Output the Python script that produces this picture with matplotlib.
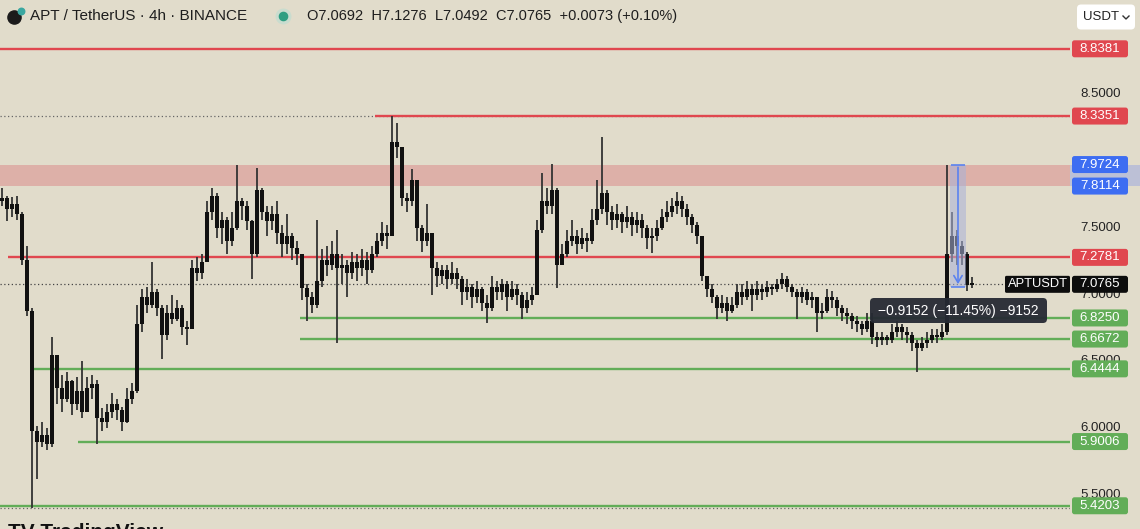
import matplotlib
matplotlib.use("Agg")
import matplotlib.pyplot as plt
from matplotlib.patches import FancyBboxPatch, Rectangle
import numpy as np

# ---- data ----
first_open = 7.70
closes = [
    7.72, 7.64, 7.68, 7.60, 7.26, 6.88, 5.98, 5.90, 5.95, 5.88,
    6.55, 6.30, 6.22, 6.35, 6.18, 6.28, 6.12, 6.30, 6.33, 6.08,
    6.05, 6.12, 6.18, 6.14, 6.05, 6.22, 6.28, 6.78, 6.98, 6.92,
    7.02, 6.90, 6.70, 6.86, 6.82, 6.90, 6.76, 6.74, 7.20, 7.16,
    7.24, 7.62, 7.74, 7.50, 7.56, 7.40, 7.50, 7.70, 7.66, 7.55,
    7.30, 7.78, 7.62, 7.55, 7.60, 7.46, 7.38, 7.44, 7.35, 7.30,
    7.05, 6.98, 6.92, 7.10, 7.26, 7.22, 7.30, 7.20, 7.22, 7.16,
    7.24, 7.20, 7.26, 7.18, 7.30, 7.40, 7.46, 7.44, 8.14, 8.10,
    7.72, 7.70, 7.86, 7.50, 7.40, 7.46, 7.20, 7.14, 7.18, 7.12,
    7.16, 7.12, 7.02, 7.06, 6.98, 7.04, 6.94, 6.90, 7.06, 7.02,
    7.08, 6.98, 7.04, 7.00, 6.90, 6.96, 7.00, 7.48, 7.70, 7.66,
    7.78, 7.22, 7.30, 7.40, 7.44, 7.38, 7.42, 7.40, 7.56, 7.64,
    7.76, 7.62, 7.56, 7.60, 7.54, 7.58, 7.52, 7.56, 7.50, 7.42,
    7.44, 7.50, 7.58, 7.62, 7.66, 7.70, 7.64, 7.58, 7.52, 7.44,
    7.14, 7.04, 6.98, 6.90, 6.94, 6.88, 6.92, 7.02, 6.98, 7.04,
    7.00, 7.04, 7.02, 7.06, 7.04, 7.08, 7.12, 7.06, 7.02, 6.98,
    7.02, 6.96, 6.98, 6.86, 6.88, 6.98, 6.96, 6.90, 6.86, 6.84,
    6.80, 6.78, 6.74, 6.80, 6.68, 6.66, 6.68, 6.66, 6.72, 6.76,
    6.72, 6.70, 6.64, 6.60, 6.64, 6.66, 6.70, 6.68, 6.72, 7.30,
    7.44, 7.36, 7.30, 7.0692, 7.0765,
]
highs = [
    7.80, 7.74, 7.73, 7.74, 7.62, 7.36, 6.90, 6.02, 6.05, 6.00,
    6.68, 6.55, 6.40, 6.42, 6.36, 6.38, 6.50, 6.38, 6.40, 6.36,
    6.15, 6.18, 6.26, 6.22, 6.16, 6.30, 6.34, 6.92, 7.04, 7.06,
    7.24, 7.04, 6.92, 6.92, 7.00, 6.96, 6.92, 6.80, 7.26, 7.28,
    7.30, 7.70, 7.80, 7.76, 7.62, 7.58, 7.62, 7.97, 7.72, 7.70,
    7.56, 7.95, 7.80, 7.66, 7.66, 7.70, 7.52, 7.60, 7.46, 7.40,
    7.30, 7.08, 7.02, 7.56, 7.34, 7.36, 7.40, 7.48, 7.30, 7.26,
    7.32, 7.30, 7.34, 7.32, 7.36, 7.46, 7.54, 7.52, 8.335, 8.28,
    8.10, 7.76, 7.94, 7.86, 7.52, 7.68, 7.46, 7.24, 7.22, 7.22,
    7.24, 7.20, 7.14, 7.12, 7.08, 7.10, 7.06, 7.00, 7.14, 7.10,
    7.12, 7.10, 7.10, 7.08, 7.02, 7.02, 7.06, 7.56, 7.91, 7.80,
    7.98, 7.80, 7.38, 7.48, 7.56, 7.48, 7.50, 7.46, 7.64, 7.86,
    8.18, 7.78, 7.66, 7.68, 7.62, 7.66, 7.62, 7.62, 7.60, 7.52,
    7.50, 7.56, 7.64, 7.70, 7.72, 7.77, 7.74, 7.68, 7.60, 7.54,
    7.44, 7.14, 7.08, 7.00, 7.00, 6.98, 6.98, 7.08, 7.08, 7.10,
    7.08, 7.10, 7.08, 7.10, 7.08, 7.12, 7.16, 7.14, 7.08, 7.04,
    7.06, 7.04, 7.02, 6.98, 6.94, 7.04, 7.03, 6.98, 6.92, 6.90,
    6.86, 6.84, 6.80, 6.86, 6.86, 6.72, 6.72, 6.70, 6.78, 6.80,
    6.78, 6.76, 6.72, 6.66, 6.68, 6.72, 6.74, 6.74, 6.78, 7.97,
    7.62, 7.48, 7.40, 7.32, 7.1276,
]
lows = [
    7.66, 7.55, 7.58, 7.56, 7.22, 6.84, 5.40, 5.62, 5.86, 5.84,
    5.86, 6.18, 6.12, 6.20, 6.10, 6.14, 6.08, 6.15, 6.22, 5.88,
    5.98, 6.00, 6.08, 6.06, 5.98, 6.04, 6.18, 6.26, 6.72, 6.86,
    6.90, 6.84, 6.52, 6.66, 6.78, 6.80, 6.70, 6.62, 6.74, 7.10,
    7.12, 7.24, 7.56, 7.42, 7.38, 7.30, 7.36, 7.48, 7.56, 7.48,
    7.12, 7.28, 7.56, 7.44, 7.48, 7.38, 7.28, 7.30, 7.26, 7.22,
    6.96, 6.80, 6.86, 6.90, 7.06, 7.14, 7.18, 6.64, 7.08, 6.98,
    7.12, 7.10, 7.14, 7.08, 7.16, 7.28, 7.36, 7.34, 7.44, 8.02,
    7.66, 7.62, 7.66, 7.40, 7.32, 7.36, 7.00, 7.06, 7.08, 7.04,
    7.08, 7.04, 6.92, 6.96, 6.90, 6.94, 6.88, 6.79, 6.88, 6.96,
    6.96, 6.88, 6.96, 6.92, 6.82, 6.86, 6.92, 7.00, 7.46, 7.60,
    7.60, 7.05, 7.22, 7.28, 7.36, 7.30, 7.34, 7.32, 7.38, 7.52,
    7.60, 7.52, 7.48, 7.50, 7.46, 7.50, 7.44, 7.46, 7.42, 7.34,
    7.31, 7.40, 7.48, 7.54, 7.58, 7.60, 7.58, 7.52, 7.46, 7.38,
    7.10, 6.98, 6.94, 6.82, 6.86, 6.80, 6.86, 6.90, 6.92, 6.96,
    6.88, 6.96, 6.96, 6.98, 7.00, 7.02, 7.04, 7.02, 6.98, 6.82,
    6.94, 6.92, 6.90, 6.72, 6.82, 6.86, 6.90, 6.84, 6.80, 6.78,
    6.74, 6.72, 6.70, 6.72, 6.63, 6.61, 6.62, 6.62, 6.64, 6.68,
    6.66, 6.64, 6.58, 6.42, 6.58, 6.60, 6.64, 6.64, 6.66, 6.70,
    7.24, 7.22, 7.22, 7.03, 7.0492,
]

red_levels = [8.8381, 8.3351, 7.2781]
red_starts = [-0.4, 74.6, 1.2]          # candle index where each ray begins
green_levels = [6.8250, 6.6672, 6.4444, 5.9006, 5.4203]
green_starts = [59.6, 59.6, 6.2, 15.2, -0.4]
zone = (7.8114, 7.9724)
axis_ticks = [8.5, 7.5, 7.0, 6.5, 6.0, 5.5]
last_price = 7.0765
measure_from = 7.9724
measure_change = -0.9152
measure_pct = -11.45

header_symbol = "APT / TetherUS · 4h · BINANCE"
header_ohlc = "O7.0692  H7.1276  L7.0492  C7.0765  +0.0073 (+0.10%)"

assert len(closes) == len(highs) == len(lows)

# ---- styling ----
BG = "#e1dccb"
RED = "#e0474f"
GREEN = "#62ad58"
BLUE = "#3d6df2"
W, H = 1140, 529
P_TOP, P_BOT = 9.2031, 5.2465
PPX = (P_TOP - P_BOT) / H
XR = 213.6

plt.rcParams["font.family"] = ["Liberation Sans", "DejaVu Sans"]


def py(ypx):
    return P_TOP - ypx * PPX


fig = plt.figure(figsize=(W / 100, H / 100), dpi=100)
fig.patch.set_facecolor(BG)

ax = fig.add_axes([0, 0, 1070 / W, 1])
ax.set_xlim(-0.4, XR)
ax.set_ylim(P_BOT, P_TOP)
ax.axis("off")

# supply zone
ax.axhspan(zone[0], zone[1], color="#ddb0a8", zorder=1, lw=0)

# high / low / last price dotted lines
ax.axhline(max(highs), color="#666", lw=0.9, ls=(0, (1, 2)), zorder=1.5)
ax.axhline(min(lows), color="#666", lw=0.9, ls=(0, (1, 2)), zorder=1.5)
ax.axhline(last_price, color="#444", lw=0.9, ls=(0, (1, 2)), zorder=1.5)

for lvl, s in zip(red_levels, red_starts):
    ax.hlines(lvl, s, XR, color=RED, lw=1.7, zorder=2)
for lvl, s in zip(green_levels, green_starts):
    ax.hlines(lvl, s, XR, color=GREEN, lw=1.7, zorder=2)

# candles
opens = [first_open] + closes[:-1]
idx = np.arange(len(closes))
o = np.array(opens)
c = np.array(closes)
ax.vlines(idx, lows, highs, color="#333333", lw=1.3, zorder=3)
bottom = np.minimum(o, c)
height = np.maximum(np.abs(c - o), 0.02)
ax.bar(idx, height, bottom=bottom, width=0.72, color="#111111", zorder=4, lw=0)

# ---- overlay in pixel-x / price-y ----
ov = fig.add_axes([0, 0, 1, 1], zorder=5)
ov.set_xlim(0, W)
ov.set_ylim(P_BOT, P_TOP)
ov.axis("off")

ov.add_patch(Rectangle((1070, zone[0]), 70, zone[1] - zone[0], fc="#bcc0d6", ec="none", zorder=1))

for t in axis_ticks:
    ov.text(1101, t, f"{t:.4f}", ha="center", va="center", fontsize=9.5, color="#222", zorder=2)


def rbox(x0, width, yc, hpx, color, r=2.5, z=6, alpha=1.0):
    ov.add_patch(FancyBboxPatch((x0, yc - hpx / 2 * PPX), width, hpx * PPX,
                                boxstyle=f"round,pad=0,rounding_size={r}",
                                mutation_aspect=PPX, fc=color, ec="none",
                                zorder=z, alpha=alpha))


def level_label(p, color):
    rbox(1072, 56, p, 17, color)
    ov.text(1100, p, f"{p:.4f}", ha="center", va="center", fontsize=9.5, color="white", zorder=7)


for lvl in red_levels:
    level_label(lvl, RED)
for lvl in green_levels:
    level_label(lvl, GREEN)
for lvl in zone:
    level_label(lvl, BLUE)
level_label(last_price, "#0d0d0d")
rbox(1005, 65, last_price, 17, "#0d0d0d", r=1.5)
ov.text(1038, last_price, "APTUSDT", ha="center", va="center", fontsize=9.3, color="white", zorder=7)

# measure tool
m_end = measure_from + measure_change
ov.add_patch(Rectangle((950, m_end), 16, measure_from - m_end, fc="#a9b2d8", alpha=0.55, ec="none", zorder=3))
ov.annotate("", xy=(958, m_end), xytext=(958, measure_from),
            arrowprops=dict(arrowstyle="->,head_length=0.5,head_width=0.3", color="#5b82f0", lw=1.2), zorder=4)
ov.hlines([measure_from, m_end], 951, 965, color="#5b82f0", lw=1.2, zorder=4)
rbox(870, 177, py(310.5), 25, "#262a33", r=4, z=8, alpha=0.95)
ticks = int(round(abs(measure_change) * 10000))
tip = f"{measure_change:.4f} ({measure_pct:.2f}%) -{ticks}".replace("-", "\u2212")
ov.text(958, py(311), tip, ha="center", va="center", fontsize=10, color="white", zorder=9)

# header
ov.scatter([14], [py(17)], s=90, color="#1b1b1b", zorder=6)
ov.scatter([21], [py(11)], s=22, color="#3aa7a0", zorder=7)
fig.text(30 / W, 1 - 16 / H, header_symbol, fontsize=11, color="#1e1e1e", va="center")
ov.scatter([283], [py(16)], s=110, color="#c9dccf", zorder=6)
ov.scatter([283], [py(16)], s=35, color="#2f9e82", zorder=7)
fig.text(307 / W, 1 - 16 / H, header_ohlc, fontsize=10.5, color="#1e1e1e", va="center")

# currency button
rbox(1077, 58, py(17), 25, "white", r=4, z=6)
ov.text(1083, py(17), "USDT", ha="left", va="center", fontsize=9.5, color="#222", zorder=7)
ov.plot([1123, 1126, 1129], [py(16), py(19), py(16)], color="#333", lw=1.0, zorder=7)

# watermark, cut off at the bottom edge
fig.text(8 / W, 1 - 523 / H, "TV TradingView", fontsize=15, fontweight="bold", color="#111", va="top")

fig.savefig("out.png", dpi=100, facecolor=BG)
